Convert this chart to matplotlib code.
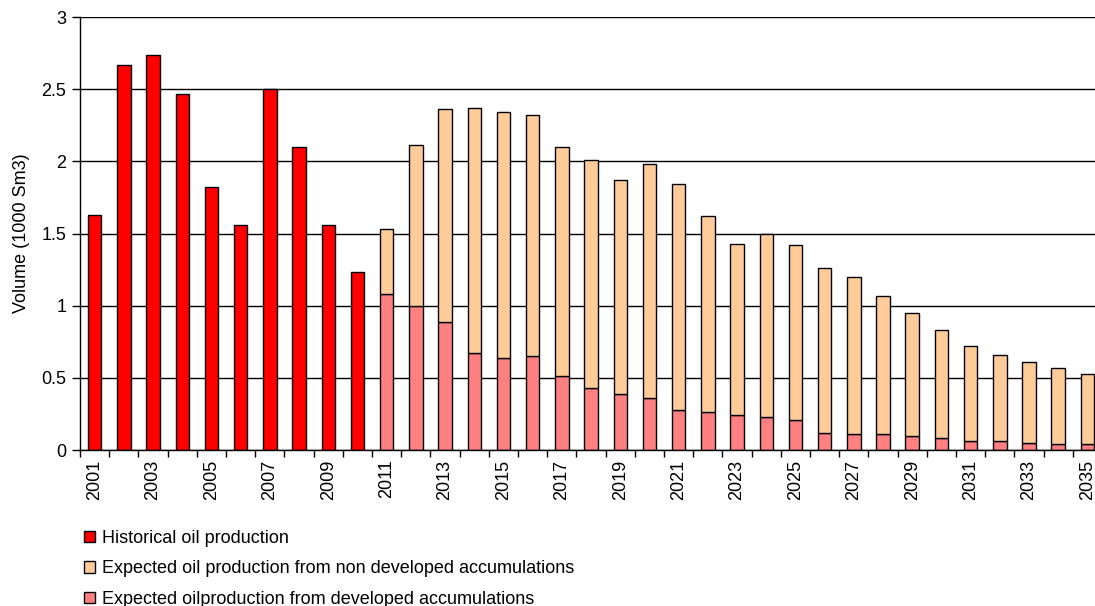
import matplotlib
matplotlib.use("Agg")
import matplotlib.pyplot as plt
import numpy as np
from matplotlib.patches import Patch

plt.rcParams["font.family"] = ["Liberation Sans", "DejaVu Sans"]

years = list(range(2001, 2036))

# historical production 2001-2010 (1000 Sm3)
historical = [1.63, 2.67, 2.74, 2.47, 1.82, 1.56, 2.50, 2.10, 1.56, 1.23]

# forecast 2011-2035, split into developed and non developed accumulations
developed = [1.08, 1.00, 0.89, 0.67, 0.64, 0.65, 0.51, 0.43, 0.39, 0.36,
             0.28, 0.26, 0.24, 0.23, 0.21, 0.12, 0.11, 0.11, 0.10, 0.08,
             0.06, 0.06, 0.05, 0.04, 0.04]
non_developed = [0.45, 1.11, 1.47, 1.70, 1.70, 1.67, 1.59, 1.58, 1.48, 1.62,
                 1.56, 1.36, 1.19, 1.27, 1.21, 1.14, 1.09, 0.96, 0.85, 0.75,
                 0.66, 0.60, 0.56, 0.53, 0.49]

y_ticks = [0, 0.5, 1, 1.5, 2, 2.5, 3]
y_tick_labels = ["0", "0.5", "1", "1.5", "2", "2.5", "3"]

RED = "#ff0000"
PEACH = "#ffcc99"
PINK = "#ff8080"
FS = 13

fig = plt.figure(figsize=(10.95, 6.06), dpi=100)
ax = fig.add_axes([0.0731, 0.2574, 0.9333, 0.7145])

x = np.arange(len(years))
n_hist = len(historical)
width = 0.46

ax.bar(x[:n_hist], historical, width, color=RED, edgecolor="black", linewidth=1.0, zorder=3)
ax.bar(x[n_hist:], developed, width, color=PINK, edgecolor="black", linewidth=1.0, zorder=3)
ax.bar(x[n_hist:], non_developed, width, bottom=developed, color=PEACH,
       edgecolor="black", linewidth=1.0, zorder=3)

ax.set_xlim(-0.5, len(years) - 0.5)
ax.set_ylim(0, 3)

ax.set_yticks(y_ticks)
ax.set_yticklabels(y_tick_labels, fontsize=FS)
ax.tick_params(axis="y", direction="out", length=6, width=1, pad=4)
ax.yaxis.grid(True, color="black", linewidth=1.0, zorder=0)

# year labels on every other category, tick marks at category boundaries
ax.set_xticks(x[::2])
ax.set_xticklabels([str(y) for y in years[::2]], rotation=90, fontsize=FS)
ax.tick_params(axis="x", which="major", length=0, pad=7)
ax.set_xticks(np.arange(-0.5, len(years), 1), minor=True)
ax.tick_params(axis="x", which="minor", direction="out", length=5, width=1)

for side in ("top", "right"):
    ax.spines[side].set_visible(False)
for side in ("left", "bottom"):
    ax.spines[side].set_linewidth(1.0)
    ax.spines[side].set_zorder(4)

ax.set_ylabel("Volume (1000 Sm3)", fontsize=FS, labelpad=8)

handles = [
    Patch(facecolor=RED, edgecolor="black", linewidth=1.0),
    Patch(facecolor=PEACH, edgecolor="black", linewidth=1.0),
    Patch(facecolor=PINK, edgecolor="black", linewidth=1.0),
]
labels = [
    "Historical oil production",
    "Expected oil production from non developed accumulations",
    "Expected oilproduction from developed accumulations",
]
fig.legend(handles, labels, loc="lower left", bbox_to_anchor=(0.0616, -0.030),
           frameon=False, fontsize=FS, handlelength=0.6, handleheight=0.6,
           handletextpad=0.4, labelspacing=0.75)

fig.savefig("out.png", dpi=100)
